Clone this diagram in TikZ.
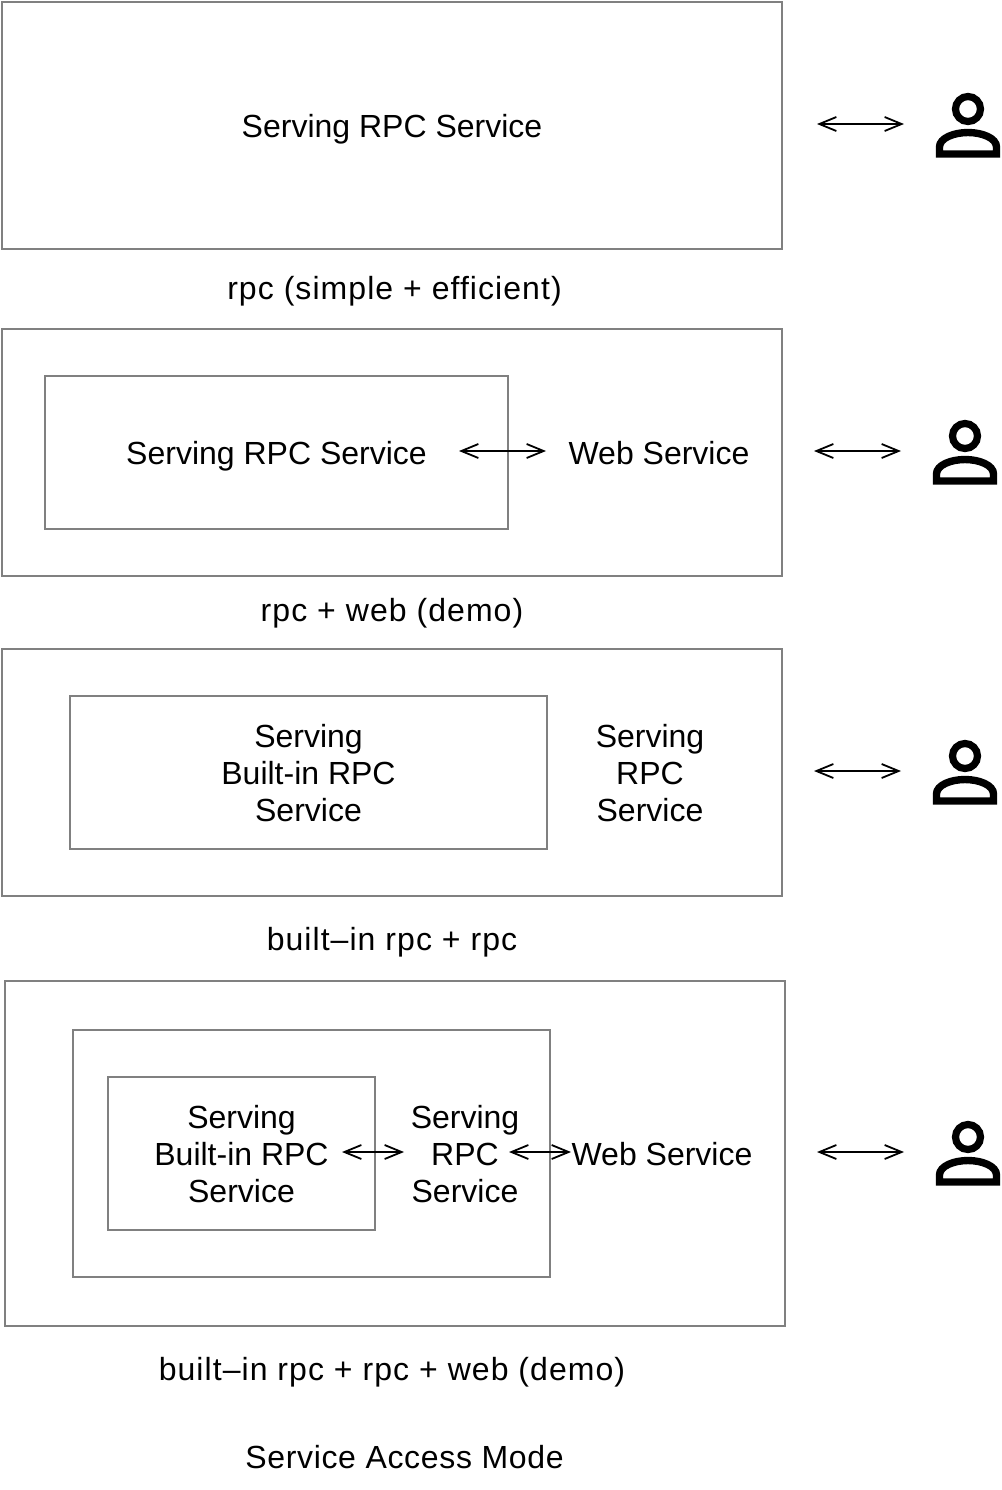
\documentclass[tikz,border=0pt]{standalone}
\usepackage{fontspec}
\setmainfont{Liberation Sans}
\newfontfamily\captionfont[LetterSpace=3.3]{Liberation Sans}
\newfontfamily\titlefont[LetterSpace=2.1]{Liberation Sans}
\usetikzlibrary{arrows.meta}
\definecolor{boxgray}{HTML}{808080}
\tikzset{
  box/.style={draw=boxgray,line width=1pt,inner sep=0pt,fill=none},
  label/.style={font=\fontsize{16pt}{18.5pt}\selectfont,align=center,inner sep=0pt,text=black},
  caplabel/.style={label,font=\captionfont\fontsize{16pt}{18.5pt}\selectfont},
  titlelabel/.style={label,font=\titlefont\fontsize{16pt}{18.5pt}\selectfont},
  link/.style={{Straight Barb[length=8.5pt,width=7pt,line width=.9pt]}-{Straight Barb[length=8.5pt,width=7pt,line width=.9pt]},line width=.85pt,black,shorten <=-.5pt,shorten >=-.5pt},
  pics/person/.style={code={
    \draw[line width=3.6pt] (0,0) circle[radius=12.5];
    \draw[line width=3.7pt,line join=miter] (-28.5,45) -- (-28.5,38) .. controls (-28.5,29) and (-14,23.5) .. (0,23.5) .. controls (14,23.5) and (28.5,29) .. (28.5,38) -- (28.5,45) -- cycle;
  }}
}
\begin{document}
\begin{tikzpicture}[x=.5pt,y=-.5pt]
\useasboundingbox (0,0) rectangle (1002,1490);
% row 1
\node[box,minimum width=390pt,minimum height=123.5pt] (b1) at (392,125.5) {};
\node[label] (t1) at (392,129) {Serving RPC Service};
\node[caplabel] (c1) at (394.5,291) {rpc (simple + efficient)};
\coordinate (a1l) at (818,124); \coordinate (a1r) at (903,124);
\draw[link] (a1l) -- (a1r);
\pic at (968,109) {person};
% row 2
\node[box,minimum width=390pt,minimum height=123.5pt] (b2) at (392,452.5) {};
\node[box,minimum width=231.5pt,minimum height=76.5pt] (b2i) at (276.5,452.5) {};
\node[label] (t2) at (276.5,456) {Serving RPC Service};
\node[label] (w2) at (659,453) {Web Service};
\node[caplabel] (c2) at (392,613) {rpc + web (demo)};
\coordinate (a2il) at (460,451); \coordinate (a2ir) at (545,451);
\draw[link] (a2il) -- (a2ir);
\coordinate (a2l) at (815,451); \coordinate (a2r) at (900,451);
\draw[link] (a2l) -- (a2r);
\pic at (965,436) {person};
% row 3
\node[box,minimum width=390pt,minimum height=123.5pt] (b3) at (392,772.5) {};
\node[box,minimum width=238.5pt,minimum height=76.5pt] (b3i) at (308.5,772.5) {};
\node[label] (t3) at (308.5,773) {Serving\\Built-in RPC\\Service};
\node[label] (s3) at (650,773) {Serving\\RPC\\Service};
\node[caplabel] (c3) at (392,942) {built–in rpc + rpc};
\coordinate (a3l) at (815,771); \coordinate (a3r) at (900,771);
\draw[link] (a3l) -- (a3r);
\pic at (965,756) {person};
% row 4
\node[box,minimum width=390pt,minimum height=172.5pt] (b4) at (395,1153.5) {};
\node[box,minimum width=238.5pt,minimum height=123.5pt] (b4m) at (311.5,1153.5) {};
\node[box,minimum width=133.5pt,minimum height=76.5pt] (b4i) at (241.5,1153.5) {};
\node[label] (t4) at (241.5,1154) {Serving\\Built-in RPC\\Service};
\node[label] (s4) at (465,1154) {Serving\\RPC\\Service};
\node[label] (w4) at (662,1154) {Web Service};
\node[caplabel] (c4) at (392,1372) {built–in rpc + rpc + web (demo)};
\coordinate (a4al) at (343,1152); \coordinate (a4ar) at (403,1152);
\draw[link] (a4al) -- (a4ar);
\coordinate (a4bl) at (510,1152); \coordinate (a4br) at (570,1152);
\draw[link] (a4bl) -- (a4br);
\coordinate (a4l) at (818,1152); \coordinate (a4r) at (903,1152);
\draw[link] (a4l) -- (a4r);
\pic at (968,1137) {person};
% title
\node[titlelabel] (title) at (404.5,1457) {Service Access Mode};
\end{tikzpicture}
\end{document}
